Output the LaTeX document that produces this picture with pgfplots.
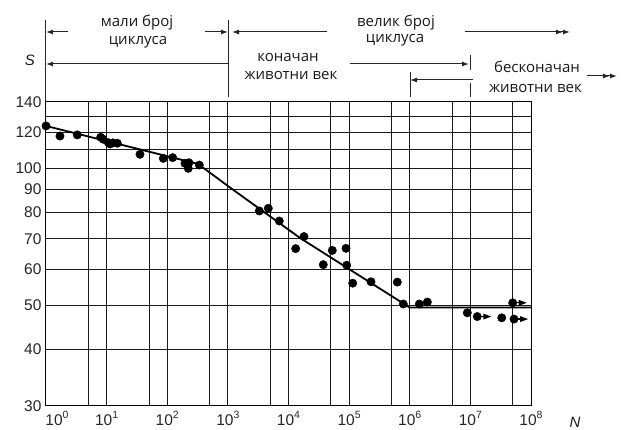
\documentclass[border=0pt]{standalone}
\usepackage{pgfplots}
\pgfplotsset{compat=1.18}
\usepackage{pgfplotstable}
\usepackage{fontspec}
\setmainfont{Liberation Sans}
\newfontfamily\osans{Open Sans}
\usetikzlibrary{arrows.meta}
\newcommand\tp[1]{10\raisebox{0.45em}{\fontsize{10.5}{11}\selectfont #1}}
\pgfdeclareplotmark{runarrow}{%
  \pgfsetlinewidth{1.2pt}%
  \pgfpathmoveto{\pgfqpoint{4pt}{0pt}}\pgfpathlineto{\pgfqpoint{7pt}{0pt}}\pgfusepathqstroke
  \pgfpathmoveto{\pgfqpoint{6pt}{3pt}}\pgfpathlineto{\pgfqpoint{14pt}{0pt}}\pgfpathlineto{\pgfqpoint{6pt}{-3pt}}\pgfpathclose\pgfusepathqfill}

\pgfplotstableread{
x y
1.0 124.0
1.70 117.8
3.28 118.5
7.98 117.1
8.81 115.9
10.7 113.9
11.4 113.2
12.7 113.8
15.0 113.6
35.5 107.4
86.1 105.2
123 105.6
196 102.6
228 102.9
222 100.0
338 101.7
3300 80.6
4640 81.7
7050 76.6
18000 70.8
13140 66.6
52800 66.0
88800 66.7
37500 61.4
91200 61.2
114500 55.9
229600 56.3
623000 56.2
783000 50.3
1440000 50.3
1950000 50.8
8900000 48.1
32900000 46.9
}\dots

\pgfplotstableread{
x y
13000000 47.2
49900000 50.6
52500000 46.6
}\runout

\pgfplotstableread{
x y
1 124.0
321 102.3
1170 90.1
15490 70.3
1000000 49.4
100000000 49.4
}\curve

\begin{document}
\begin{tikzpicture}
\begin{axis}[
  scale only axis, width=485pt, height=304pt,
  xmode=log, ymode=log,
  xmin=1, xmax=1e8, ymin=30, ymax=140,
  xtick={1,10,100,1000,10000,100000,1000000,10000000,100000000},
  xticklabels={\hspace*{22pt}\tp{0},\tp{1},\tp{2},\tp{3},\tp{4},\tp{5},\tp{6},\tp{7},\tp{8}},
  extra x ticks={5,50,500,5000,50000,500000,5000000,50000000},
  extra x tick labels={},
  extra x tick style={grid=major},
  ytick={30,40,50,60,70,80,90,100,110,120,130,140},
  yticklabels={30,40,50,60,70,80,90,100,,120,,140},
  xminorticks=false, yminorticks=false,
  major tick length=0pt,
  grid=major,
  major grid style={black!90, line width=1pt},
  axis line style={black, line width=1pt},
  tick label style={font=\fontsize{15.5}{16}\selectfont, text=black!85},
  xticklabel style={yshift=-2pt},
  yticklabel style={xshift=-1pt},
  clip=false,
]
\addplot[black, line width=1.8pt] table[x=x,y=y] {\curve};
\addplot[only marks, mark=*, mark size=4.2pt, black] table[x=x,y=y] {\dots};
\addplot[only marks, mark=*, mark size=4.2pt, black] table[x=x,y=y] {\runout};
\addplot[only marks, mark=runarrow, black] table[x=x,y=y] {\runout};
\end{axis}
\path[use as bounding box] (-46pt,-23pt) rectangle (575pt,406pt);
\begin{scope}[x=1pt,y=1pt, line width=1pt, black!85]
  % verticals
  \draw (0,386) -- (0,304);
  \draw (182,386) -- (182,309);
  \draw (424,351) -- (424,336);
  \draw (424,323) -- (424,309);
  \draw (364,334) -- (364,309);
  % row A
  \draw[-{Latex[length=7pt,width=5pt]}] (22,374) -- (0,374);
  \draw[-{Latex[length=7pt,width=5pt]}] (159,374) -- (182,374);
  \draw[-{Latex[length=7pt,width=5pt]}] (281,374) -- (186,374);
  \draw[-{Latex[length=7pt,width=5pt]Latex[length=7pt,width=5pt]}] (419,374) -- (524,374);
  % row B
  \draw[-{Latex[length=7pt,width=5pt]}] (182,342) -- (0,342);
  \draw[-{Latex[length=7pt,width=5pt]}] (304,342) -- (423,342);
  % row C
  \draw[-{Latex[length=7pt,width=5pt]}] (427,326) -- (364,326);
  \draw[-{Latex[length=7pt,width=5pt]Latex[length=7pt,width=5pt]}] (541,330) -- (571,330);
\end{scope}
\begin{scope}[x=1pt,y=1pt, every node/.style={font=\osans\fontsize{15}{16}\selectfont, text=black!90, inner sep=0pt}]
  \node[anchor=base] at (91,379) {мали број};
  \node[anchor=base] at (92,361) {циклуса};
  \node[anchor=base] at (350,379) {велик број};
  \node[anchor=base] at (349,363) {циклуса};
  \node[anchor=base] at (242,344) {коначан};
  \node[anchor=base] at (245,326) {животни век};
  \node[anchor=base] at (491,333) {бесконачан};
  \node[anchor=base] at (489.5,313) {животни век};
\end{scope}
\node[font=\itshape\fontsize{15}{16}\selectfont, text=black!90, inner sep=0pt] at (-16pt,346pt) {S};
\node[font=\itshape\fontsize{15}{16}\selectfont, text=black!90, inner sep=0pt] at (529pt,-16pt) {N};
\end{tikzpicture}
\end{document}
